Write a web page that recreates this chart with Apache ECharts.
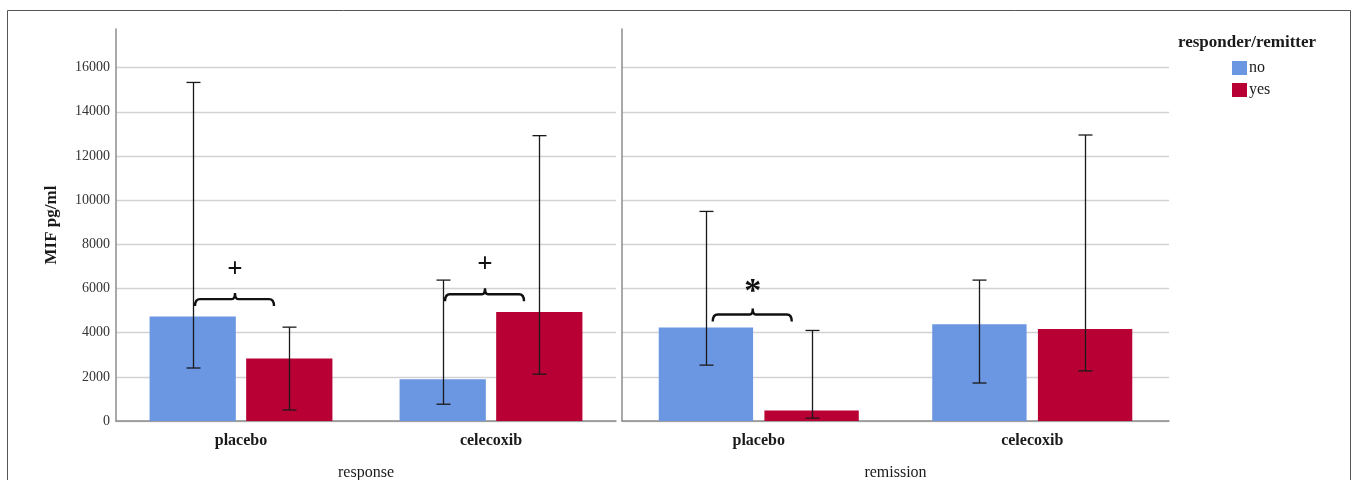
<!DOCTYPE html>
<html>
<head>
<meta charset="utf-8">
<script src="https://cdn.jsdelivr.net/npm/echarts@6/dist/echarts.min.js"></script>
<style>
html,body{margin:0;padding:0;background:#fff;}
#chart{width:1358px;height:480px;}
</style>
</head>
<body>
<div id="chart"></div>
<script>
// ---- data ----
const categories = ['placebo', 'celecoxib'];
const panelNames = ['response', 'remission'];
const groupNames = ['no', 'yes'];
const legendTitle = 'responder/remitter';
const yAxisName = 'MIF pg/ml';
const yTicks = [0, 2000, 4000, 6000, 8000, 10000, 12000, 14000, 16000];
const yMax = 17750;

const responseNo = [4730, 1890];
const responseYes = [2825, 4930];
const remissionNo = [4230, 4380];
const remissionYes = [480, 4170];

const responseNoLow = [2400, 760];
const responseNoHigh = [15330, 6380];
const responseYesLow = [500, 2120];
const responseYesHigh = [4250, 12920];
const remissionNoLow = [2530, 1720];
const remissionNoHigh = [9490, 6380];
const remissionYesLow = [130, 2270];
const remissionYesHigh = [4100, 12950];

// significance brackets: panel, category index, value, mark
const bracketPanel = [0, 0, 1];
const bracketCat = [0, 1, 0];
const bracketValue = [5520, 5740, 4820];
const bracketMark = ['+', '+', '*'];

// ---- styles ----
const BLUE = '#6b96e2';
const RED = '#b80034';
const SERIF = '"Liberation Serif", "Times New Roman", serif';
const BAR_W = 0.345, BAR_GAP = 0.12;

const chart = echarts.init(document.getElementById('chart'));

function errData(lo, hi) { return categories.map((c, i) => [i, lo[i], hi[i]]); }

function errRender(side) {
  return function (params, api) {
    const x = api.value(0);
    const pLo = api.coord([x, api.value(1)]);
    const pHi = api.coord([x, api.value(2)]);
    const band = api.size([1, 0])[0];
    const bw = band * BAR_W;
    const off = side * (bw + bw * BAR_GAP) / 2;
    const cx = Math.round(pLo[0] + off) + 0.5;
    const cap = 7;
    const st = { stroke: '#1a1a1a', lineWidth: 1.3 };
    return {
      type: 'group',
      children: [
        { type: 'line', shape: { x1: cx, y1: pLo[1], x2: cx, y2: pHi[1] }, style: st },
        { type: 'line', shape: { x1: cx - cap, y1: pLo[1], x2: cx + cap, y2: pLo[1] }, style: st },
        { type: 'line', shape: { x1: cx - cap, y1: pHi[1], x2: cx + cap, y2: pHi[1] }, style: st }
      ]
    };
  };
}

function bracketRender(params, api) {
  const p = api.coord([api.value(0), api.value(1)]);
  const mark = bracketMark[params.dataIndex];
  const x1 = p[0] - 46, x2 = p[0] + 33, xc = p[0] - 6;
  const y = p[1];
  const path = `M${x1} ${y + 7} Q${x1} ${y} ${x1 + 5} ${y} L${xc - 3} ${y} Q${xc} ${y} ${xc} ${y - 6} Q${xc} ${y} ${xc + 3} ${y} L${x2 - 5} ${y} Q${x2} ${y} ${x2} ${y + 7}`;
  return {
    type: 'group',
    children: [
      { type: 'path', shape: { pathData: path }, style: { stroke: '#111', lineWidth: 2.4, fill: 'none' } },
      { type: 'text', x: xc, y: y - (mark === '*' ? 22 : 29), style: {
          text: mark, fill: '#111', font: (mark === '*' ? 'bold 34px ' : 'bold 27px ') + SERIF,
          textAlign: 'center', textVerticalAlign: 'middle' } }
    ]
  };
}

function bracketData(panel) {
  const d = [];
  for (let i = 0; i < bracketPanel.length; i++) {
    if (bracketPanel[i] === panel) d.push({ value: [bracketCat[i], bracketValue[i]], idx: i });
  }
  return d;
}

const xAxisBase = (i) => ({
  type: 'category', gridIndex: i, data: categories,
  axisTick: { show: false },
  axisLine: { lineStyle: { color: '#8c8c8c', width: 1.5 } },
  axisLabel: { fontFamily: SERIF, fontWeight: 'bold', fontSize: 16, color: '#1a1a1a', margin: 12 },
  name: panelNames[i], nameLocation: 'middle', nameGap: 44,
  nameTextStyle: { fontFamily: SERIF, fontSize: 16, color: '#1a1a1a' }
});

const yAxisBase = (i) => ({
  type: 'value', gridIndex: i, min: 0, max: yMax, interval: yTicks[1] - yTicks[0],
  axisLine: { show: true, lineStyle: { color: '#8c8c8c', width: 1.5 } },
  axisTick: { show: false },
  axisLabel: { show: i === 0, showMaxLabel: false, fontFamily: SERIF, fontSize: 14, color: '#333', margin: 6,
    formatter: (v) => String(v) },
  splitLine: { show: true, showMaxLine: false, lineStyle: { color: '#d2d2d2', width: 1.4 } },
  name: i === 0 ? yAxisName : '', nameLocation: 'middle', nameGap: 56,
  nameTextStyle: { fontFamily: SERIF, fontWeight: 'bold', fontSize: 17, color: '#1a1a1a' }
});

const barSeries = (name, data, i, color) => ({
  type: 'bar', name: name, xAxisIndex: i, yAxisIndex: i, data: data,
  barWidth: (BAR_W * 100) + '%', barGap: (BAR_GAP * 100) + '%',
  itemStyle: { color: color }, silent: true
});

const errSeries = (lo, hi, i, side) => ({
  type: 'custom', xAxisIndex: i, yAxisIndex: i, data: errData(lo, hi),
  encode: { x: 0, y: [1, 2] }, renderItem: errRender(side), z: 5, silent: true
});

const bracketSeries = (i) => ({
  type: 'custom', xAxisIndex: i, yAxisIndex: i,
  data: bracketData(i).map(d => d.value),
  encode: { x: 0, y: 1 }, z: 6, silent: true,
  renderItem: (params, api) => {
    const d = bracketData(i)[params.dataIndex];
    return bracketRender({ dataIndex: d.idx }, api);
  }
});

chart.setOption({
  backgroundColor: '#fff',
  animation: false,
  grid: [
    { left: 116, top: 29, width: 500, height: 392, outerBoundsMode: 'none', containLabel: false },
    { left: 622, top: 29, width: 547, height: 392, outerBoundsMode: 'none', containLabel: false }
  ],
  xAxis: [xAxisBase(0), xAxisBase(1)],
  yAxis: [yAxisBase(0), yAxisBase(1)],
  legend: {
    data: groupNames, orient: 'vertical', left: 1227, top: 55,
    itemWidth: 15, itemHeight: 14, itemGap: 6, icon: 'rect',
    textStyle: { fontFamily: SERIF, fontSize: 16, color: '#1a1a1a', padding: [0, 0, 0, -3] },
    selectedMode: false
  },
  graphic: [
    { type: 'rect', shape: { x: 7.5, y: 10.5, width: 1343, height: 520 },
      style: { fill: 'none', stroke: '#555', lineWidth: 1 }, z: -1, silent: true },
    { type: 'text', x: 1247, y: 43, style: { text: legendTitle, font: 'bold 17px ' + SERIF,
      fill: '#1a1a1a', textAlign: 'center', textVerticalAlign: 'middle' } }
  ],
  series: [
    barSeries(groupNames[0], responseNo, 0, BLUE),
    barSeries(groupNames[1], responseYes, 0, RED),
    barSeries(groupNames[0], remissionNo, 1, BLUE),
    barSeries(groupNames[1], remissionYes, 1, RED),
    errSeries(responseNoLow, responseNoHigh, 0, -1),
    errSeries(responseYesLow, responseYesHigh, 0, 1),
    errSeries(remissionNoLow, remissionNoHigh, 1, -1),
    errSeries(remissionYesLow, remissionYesHigh, 1, 1),
    bracketSeries(0),
    bracketSeries(1)
  ]
});
</script>
</body>
</html>
